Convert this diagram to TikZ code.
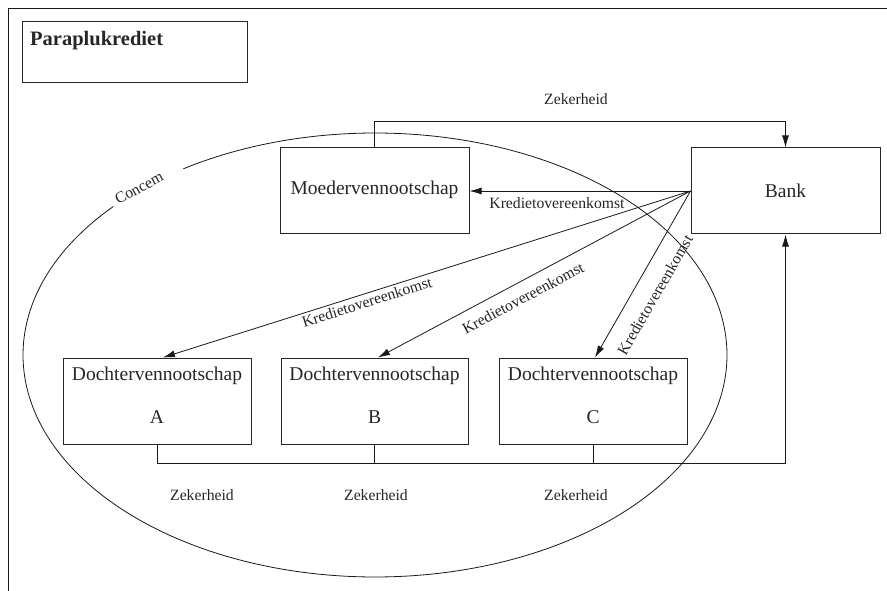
\documentclass[tikz,border=0pt]{standalone}
\usepackage{fontspec}
\setmainfont{Liberation Serif}
\usetikzlibrary{arrows.meta}
\begin{document}
\begin{tikzpicture}[x=1pt,y=-1pt,
  boxed/.style={draw=black!85, line width=1pt, rectangle, inner sep=0pt},
  boxtext/.style={font=\fontsize{19.5}{23}\selectfont, inner sep=0pt, text=black!85},
  lbl/.style={font=\fontsize{15.7}{18}\selectfont, inner sep=0pt, text=black!85},
  conn/.style={draw=black!90, line width=0.8pt},
  arr/.style={conn, -{Latex[length=12pt,width=7pt]}}]
\useasboundingbox (0,0) rectangle (887,591);
% frame
\draw[conn] (887,8) -- (8,8) -- (8,591);
% title
\node[boxed, minimum width=225pt, minimum height=61pt] (title) at (134.5,52.5) {};
\node[anchor=base west, inner sep=0pt, font=\fontsize{20.5}{24}\selectfont\bfseries, text=black!85] (titletext) at (30,46) {Paraplukrediet};
% concern ellipse with gap
\draw[conn] plot[domain=138:483, samples=240, smooth] ({375+352*cos(\x)}, {355-222*sin(\x)});
\node[lbl, rotate=28] (concern) at (139,188) {Concem};
% boxes
\node[boxed, minimum width=189pt, minimum height=86pt] (moeder) at (374.5,191) {};
\node[boxtext] (moedertext) at (374.5,190) {Moedervennootschap};
\node[boxed, minimum width=189pt, minimum height=86pt] (bank) at (785.5,191) {};
\node[boxtext] (banktext) at (785.5,191) {Bank};
\node[boxed, minimum width=188pt, minimum height=86pt] (dA) at (157,401) {};
\node[boxed, minimum width=187pt, minimum height=86pt] (dB) at (374.5,401) {};
\node[boxed, minimum width=188pt, minimum height=86pt] (dC) at (593,401) {};
\foreach \b/\l in {dA/A, dB/B, dC/C}{
  \node[boxtext] (\b t1) at ([yshift=25pt]\b.center) {Dochtervennootschap};
  \node[boxtext] (\b t2) at ([yshift=-16pt]\b.center) {\l};
}
% credit agreements
\draw[arr] (bank.west) -- (moeder.east);
\draw[arr] (bank.west) -- ([xshift=6pt]dA.north);
\draw[arr] (bank.west) -- ([xshift=3.5pt]dB.north);
\draw[arr] (bank.west) -- ([xshift=2pt]dC.north);
\node[lbl] (k0) at (557,203) {Kredietovereenkomst};
\node[lbl, rotate=17.5] (k1) at (367,302) {Kredietovereenkomst};
\node[lbl, rotate=28] (k2) at (523,298) {Kredietovereenkomst};
\node[lbl, rotate=60] (k3) at (655,295) {Kredietovereenkomst};
% securities
\draw[arr] (moeder.north) -- ++(0,-26) -| (bank.north);
\node[lbl] (z0) at (576,99) {Zekerheid};
\coordinate (j) at (785.5,463);
\draw[arr] (dA.south) |- (j) -- (bank.south);
\draw[conn] (dB.south) -- (dB.south |- j);
\draw[conn] (dC.south) -- (dC.south |- j);
\node[lbl] (z1) at (202,495) {Zekerheid};
\node[lbl] (z2) at (376,495) {Zekerheid};
\node[lbl] (z3) at (576,495) {Zekerheid};
\end{tikzpicture}
\end{document}
